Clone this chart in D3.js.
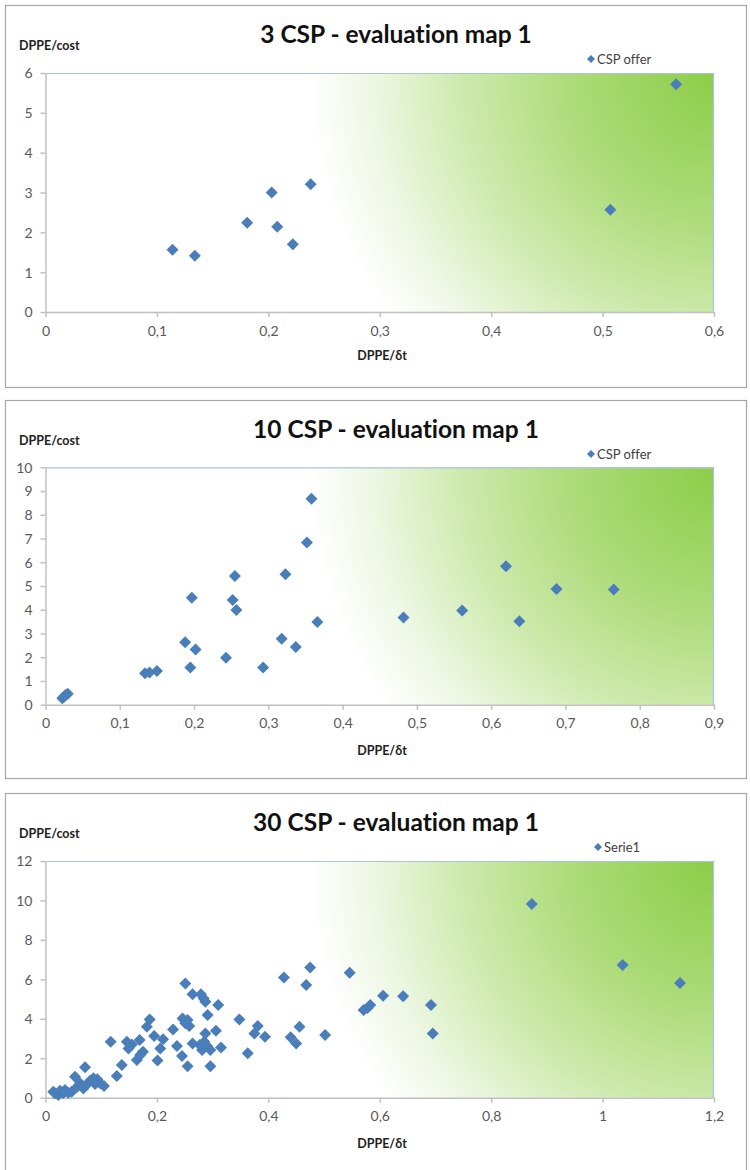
<!DOCTYPE html>
<html><head><meta charset="utf-8">
<script src="https://cdn.jsdelivr.net/npm/d3@7"></script>
<style>
html,body{margin:0;padding:0;background:#fff;}
svg{display:block;}
text{font-family:Lato,"Open Sans",sans-serif;font-variant-ligatures:none;font-feature-settings:"liga" 0;}
</style></head>
<body>
<svg id="chart" width="750" height="1170"></svg>
<script>
// ---------- DATA ----------
const titles = ["3 CSP - evaluation map 1", "10 CSP - evaluation map 1", "30 CSP - evaluation map 1"];
const legendLabels = ["CSP offer", "CSP offer", "Serie1"];
const xAxisTitle = "DPPE/\u03B4t";
const yAxisTitle = "DPPE/cost";

const xTicks1 = [0, 0.1, 0.2, 0.3, 0.4, 0.5, 0.6];
const yTicks1 = [0, 1, 2, 3, 4, 5, 6];
const xTicks2 = [0, 0.1, 0.2, 0.3, 0.4, 0.5, 0.6, 0.7, 0.8, 0.9];
const yTicks2 = [0, 1, 2, 3, 4, 5, 6, 7, 8, 9, 10];
const xTicks3 = [0, 0.2, 0.4, 0.6, 0.8, 1, 1.2];
const yTicks3 = [0, 2, 4, 6, 8, 10, 12];

const points3CSP = [
  [0.114,1.56],[0.134,1.41],[0.181,2.24],[0.203,3.00],[0.208,2.14],
  [0.222,1.70],[0.238,3.21],[0.507,2.57],[0.566,5.72]
];

const points10CSP = [
  [0.0226,0.27],[0.025,0.34],[0.027,0.41],[0.030,0.46],
  [0.134,1.33],[0.140,1.36],[0.150,1.42],
  [0.188,2.63],[0.195,1.57],[0.197,4.51],[0.202,2.33],[0.243,1.98],
  [0.252,4.41],[0.255,5.42],[0.257,3.99],[0.293,1.57],[0.318,2.78],
  [0.323,5.49],[0.337,2.43],[0.352,6.83],[0.358,8.67],[0.366,3.48],
  [0.482,3.67],[0.561,3.97],[0.620,5.83],[0.638,3.51],[0.688,4.87],[0.765,4.85]
];

const points30CSP = [
  [0.014,0.30],[0.017,0.22],[0.023,0.14],[0.026,0.35],[0.032,0.22],[0.035,0.39],
  [0.041,0.25],[0.047,0.30],[0.053,1.06],[0.057,0.56],[0.062,0.73],[0.068,0.47],
  [0.071,1.54],[0.075,0.69],[0.080,0.86],[0.086,0.98],[0.089,0.69],[0.093,0.93],
  [0.098,0.73],[0.105,0.59],
  [0.117,2.84],[0.128,1.10],[0.137,1.66],[0.146,2.84],[0.149,2.50],[0.155,2.70],
  [0.164,1.91],[0.169,2.92],[0.170,2.16],[0.175,2.33],[0.182,3.60],[0.187,3.97],
  [0.195,3.13],[0.201,1.88],[0.206,2.50],[0.211,2.96],[0.229,3.46],[0.236,2.62],
  [0.245,2.11],[0.246,4.02],[0.251,5.79],[0.251,3.77],[0.255,3.94],[0.258,3.63],
  [0.255,1.60],[0.264,5.24],[0.264,2.75],[0.277,2.67],[0.279,5.24],[0.281,2.42],
  [0.284,5.03],[0.285,2.84],[0.287,4.86],[0.287,3.26],[0.290,2.62],[0.291,4.19],
  [0.296,2.42],[0.296,1.60],[0.306,3.40],[0.310,4.70],[0.315,2.55],
  [0.348,3.97],[0.363,2.25],[0.375,3.26],[0.381,3.63],[0.394,3.09],[0.428,6.10],
  [0.440,3.06],[0.450,2.75],[0.456,3.60],[0.468,5.71],[0.475,6.60],[0.502,3.18],
  [0.546,6.33],[0.571,4.44],[0.578,4.55],[0.583,4.70],[0.606,5.17],[0.642,5.14],
  [0.692,4.70],[0.695,3.26],[0.873,9.82],[1.036,6.73],[1.139,5.81]
];

// ---------- LAYOUT ----------
const svg = d3.select("#chart");
const fmt = d3.formatLocale({decimal:",", thousands:".", grouping:[3], currency:["","€"]}).format("~g");

const panels = [
  {top:5,   plotTop:73,    plotBottom:312,   boxBottom:387,  xTicks:xTicks1, yTicks:yTicks1, pts:points3CSP},
  {top:400, plotTop:467.3, plotBottom:704.7, boxBottom:778,  xTicks:xTicks2, yTicks:yTicks2, pts:points10CSP},
  {top:793, plotTop:861,   plotBottom:1097.7,boxBottom:1190, xTicks:xTicks3, yTicks:yTicks3, pts:points30CSP}
];
const plotLeft = 45.5, plotRight = 714;

const defs = svg.append("defs");

panels.forEach((p, i) => {
  const g = svg.append("g");
  // panel border
  g.append("rect").attr("x",5.5).attr("y",p.top+0.5).attr("width",741).attr("height",p.boxBottom-p.top)
    .attr("fill","#fff").attr("stroke","#a6a6a6").attr("stroke-width",1.2);

  const x = d3.scaleLinear().domain([0, d3.max(p.xTicks)]).range([plotLeft, plotRight]);
  const y = d3.scaleLinear().domain([0, d3.max(p.yTicks)]).range([p.plotBottom, p.plotTop]);

  // gradient (radial from the top-right corner)
  const gid = "grad"+i;
  const grad = defs.append("radialGradient").attr("id",gid).attr("gradientUnits","userSpaceOnUse")
    .attr("cx",plotRight).attr("cy",p.plotTop).attr("r",405);
  grad.append("stop").attr("offset",0).attr("stop-color","#8ccd48");
  grad.append("stop").attr("offset",0.35).attr("stop-color","#acdb78");
  grad.append("stop").attr("offset",0.62).attr("stop-color","#cdeaad");
  grad.append("stop").attr("offset",0.85).attr("stop-color","#eef7e4");
  grad.append("stop").attr("offset",1).attr("stop-color","#ffffff");
  g.append("rect").attr("x",plotLeft).attr("y",p.plotTop).attr("width",plotRight-plotLeft)
    .attr("height",p.plotBottom-p.plotTop).attr("fill","url(#"+gid+")");
  // top / right border of plot area
  g.append("path").attr("d",`M${plotLeft},${p.plotTop+0.5}H${plotRight-0.5}V${p.plotBottom}`)
    .attr("fill","none").attr("stroke","#a9c4e0").attr("stroke-width",1.2);

  // axes
  const xa = g.append("g").attr("transform",`translate(0,${p.plotBottom})`)
    .call(d3.axisBottom(x).tickValues(p.xTicks).tickFormat(fmt).tickSize(5).tickSizeOuter(0).tickPadding(6));
  const ya = g.append("g").attr("transform",`translate(${plotLeft},0)`)
    .call(d3.axisLeft(y).tickValues(p.yTicks).tickFormat(fmt).tickSize(5).tickSizeOuter(0).tickPadding(8));
  [xa, ya].forEach(a => {
    a.select(".domain").attr("stroke","#c0c0c0").attr("stroke-width",1.5);
    a.selectAll(".tick line").attr("stroke","#c0c0c0").attr("stroke-width",1.5);
    a.selectAll(".tick text").attr("fill","#595959").style("font-size","14px")
      .style("font-family","Lato, sans-serif");
  });
  ya.selectAll(".tick text").attr("dy","0.35em");
  xa.selectAll(".tick text").attr("dy","0.9em");

  // points
  const r = 6;
  const diamond = `M0,${-r}L${r},0L0,${r}L${-r},0Z`;
  g.append("g").selectAll("path").data(p.pts).join("path")
    .attr("d", diamond)
    .attr("transform", d => `translate(${x(d[0])},${y(d[1])})`)
    .attr("fill","#4a7ebb");

  // title
  g.append("text").attr("x",396).attr("y",p.top+38).attr("text-anchor","middle")
    .style("font-size","24.5px").style("font-weight","bold").attr("fill","#111")
    .text(titles[i]);
  // y axis title
  g.append("text").attr("x",19).attr("y",p.top+45).style("font-size","12.5px").style("font-weight","bold")
    .attr("fill","#222").text(yAxisTitle);
  // x axis title
  g.append("text").attr("x",382).attr("y",p.top+355).attr("text-anchor","middle")
    .style("font-size","12.5px").style("font-weight","bold").attr("fill","#222").text(xAxisTitle);
  // legend
  const lx = i === 2 ? 598 : 591, ly = p.top + 54;
  g.append("path").attr("d","M0,-4L4,0L0,4L-4,0Z").attr("transform",`translate(${lx},${ly})`).attr("fill","#4a7ebb");
  g.append("text").attr("x",lx+6).attr("y",ly).attr("dy","0.35em").style("font-size","13px")
    .attr("fill","#404040").text(legendLabels[i]);
});
</script>
</body></html>
